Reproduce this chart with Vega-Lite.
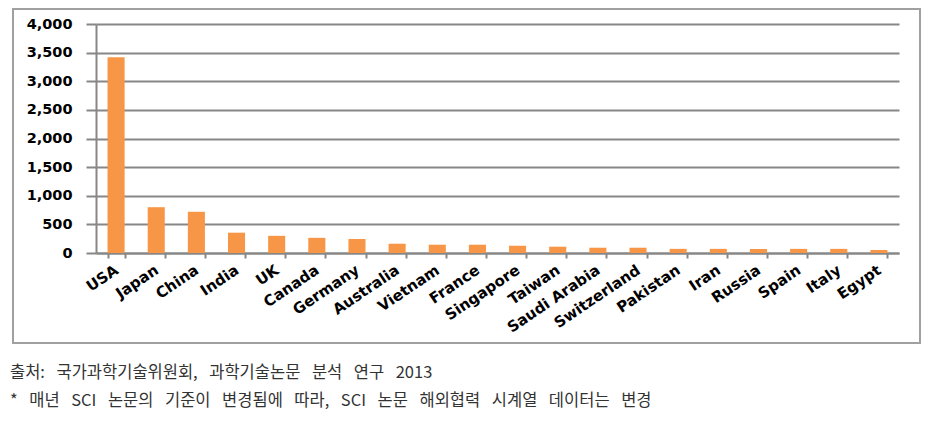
{
  "$schema": "https://vega.github.io/schema/vega-lite/v6.json",
  "autosize": "none",
  "width": 907,
  "height": 334,
  "padding": {"left": 13, "top": 9, "right": 12, "bottom": 84},
  "background": "white",
  "data": {
    "values": [
      {"country": "USA", "value": 3420},
      {"country": "Japan", "value": 800},
      {"country": "China", "value": 720},
      {"country": "India", "value": 355},
      {"country": "UK", "value": 300},
      {"country": "Canada", "value": 265},
      {"country": "Germany", "value": 245},
      {"country": "Australia", "value": 162},
      {"country": "Vietnam", "value": 145},
      {"country": "France", "value": 145},
      {"country": "Singapore", "value": 127},
      {"country": "Taiwan", "value": 110},
      {"country": "Saudi Arabia", "value": 92},
      {"country": "Switzerland", "value": 92},
      {"country": "Pakistan", "value": 72},
      {"country": "Iran", "value": 72},
      {"country": "Russia", "value": 70},
      {"country": "Spain", "value": 72},
      {"country": "Italy", "value": 72},
      {"country": "Egypt", "value": 52}
    ]
  },
  "title": {
    "text": ["출처:\u2002\u2009국가과학기술위원회,\u2002\u2009과학기술논문\u2002\u2009분석\u2002\u2009연구\u2002\u20092013", "*\u2002\u2009매년\u2002\u2009SCI\u2002\u2009논문의\u2002\u2009기준이\u2002\u2009변경됨에\u2002\u2009따라,\u2002\u2009SCI\u2002\u2009논문\u2002\u2009해외협력\u2002\u2009시계열\u2002\u2009데이터는\u2002\u2009변경"],
    "orient": "bottom",
    "anchor": "start",
    "frame": "group",
    "offset": 22,
    "dx": -3,
    "font": "Noto Sans CJK KR",
    "fontSize": 16.5,
    "fontWeight": "normal",
    "color": "#333333",
    "lineHeight": 28,
    "baseline": "top"
  },
  "mark": {"type": "bar", "color": "#F79646"},
  "encoding": {
    "x": {
      "field": "country",
      "type": "nominal",
      "sort": null,
      "scale": {"range": [83, 886], "paddingInner": 0.575, "paddingOuter": 0.2875},
      "axis": {
        "title": null,
        "offset": -90,
        "domainColor": "#878787",
        "domainWidth": 2,
        "tickBand": "extent",
        "tickSize": 5,
        "tickWidth": 2,
        "tickColor": "#878787",
        "labelAngle": -34,
        "labelAlign": "right",
        "labelBaseline": "middle",
        "labelPadding": 10,
        "labelFont": "DejaVu Sans",
        "labelFontWeight": "bold",
        "labelFontSize": 15,
        "labelColor": "#000000",
        "grid": false
      }
    },
    "y": {
      "field": "value",
      "type": "quantitative",
      "scale": {"domain": [0, 4000], "range": [244, 15], "nice": false},
      "axis": {
        "title": null,
        "offset": -83,
        "values": [0, 500, 1000, 1500, 2000, 2500, 3000, 3500, 4000],
        "format": ",.0f",
        "grid": true,
        "gridColor": "#878787",
        "gridWidth": 2,
        "domainColor": "#878787",
        "domainWidth": 2,
        "tickSize": 10,
        "tickWidth": 2,
        "tickColor": "#878787",
        "labelPadding": 14,
        "labelFont": "DejaVu Sans",
        "labelFontWeight": "bold",
        "labelFontSize": 14.5,
        "labelColor": "#000000"
      }
    }
  },
  "config": {
    "view": {"stroke": "#a0a0a0", "strokeWidth": 2}
  }
}
